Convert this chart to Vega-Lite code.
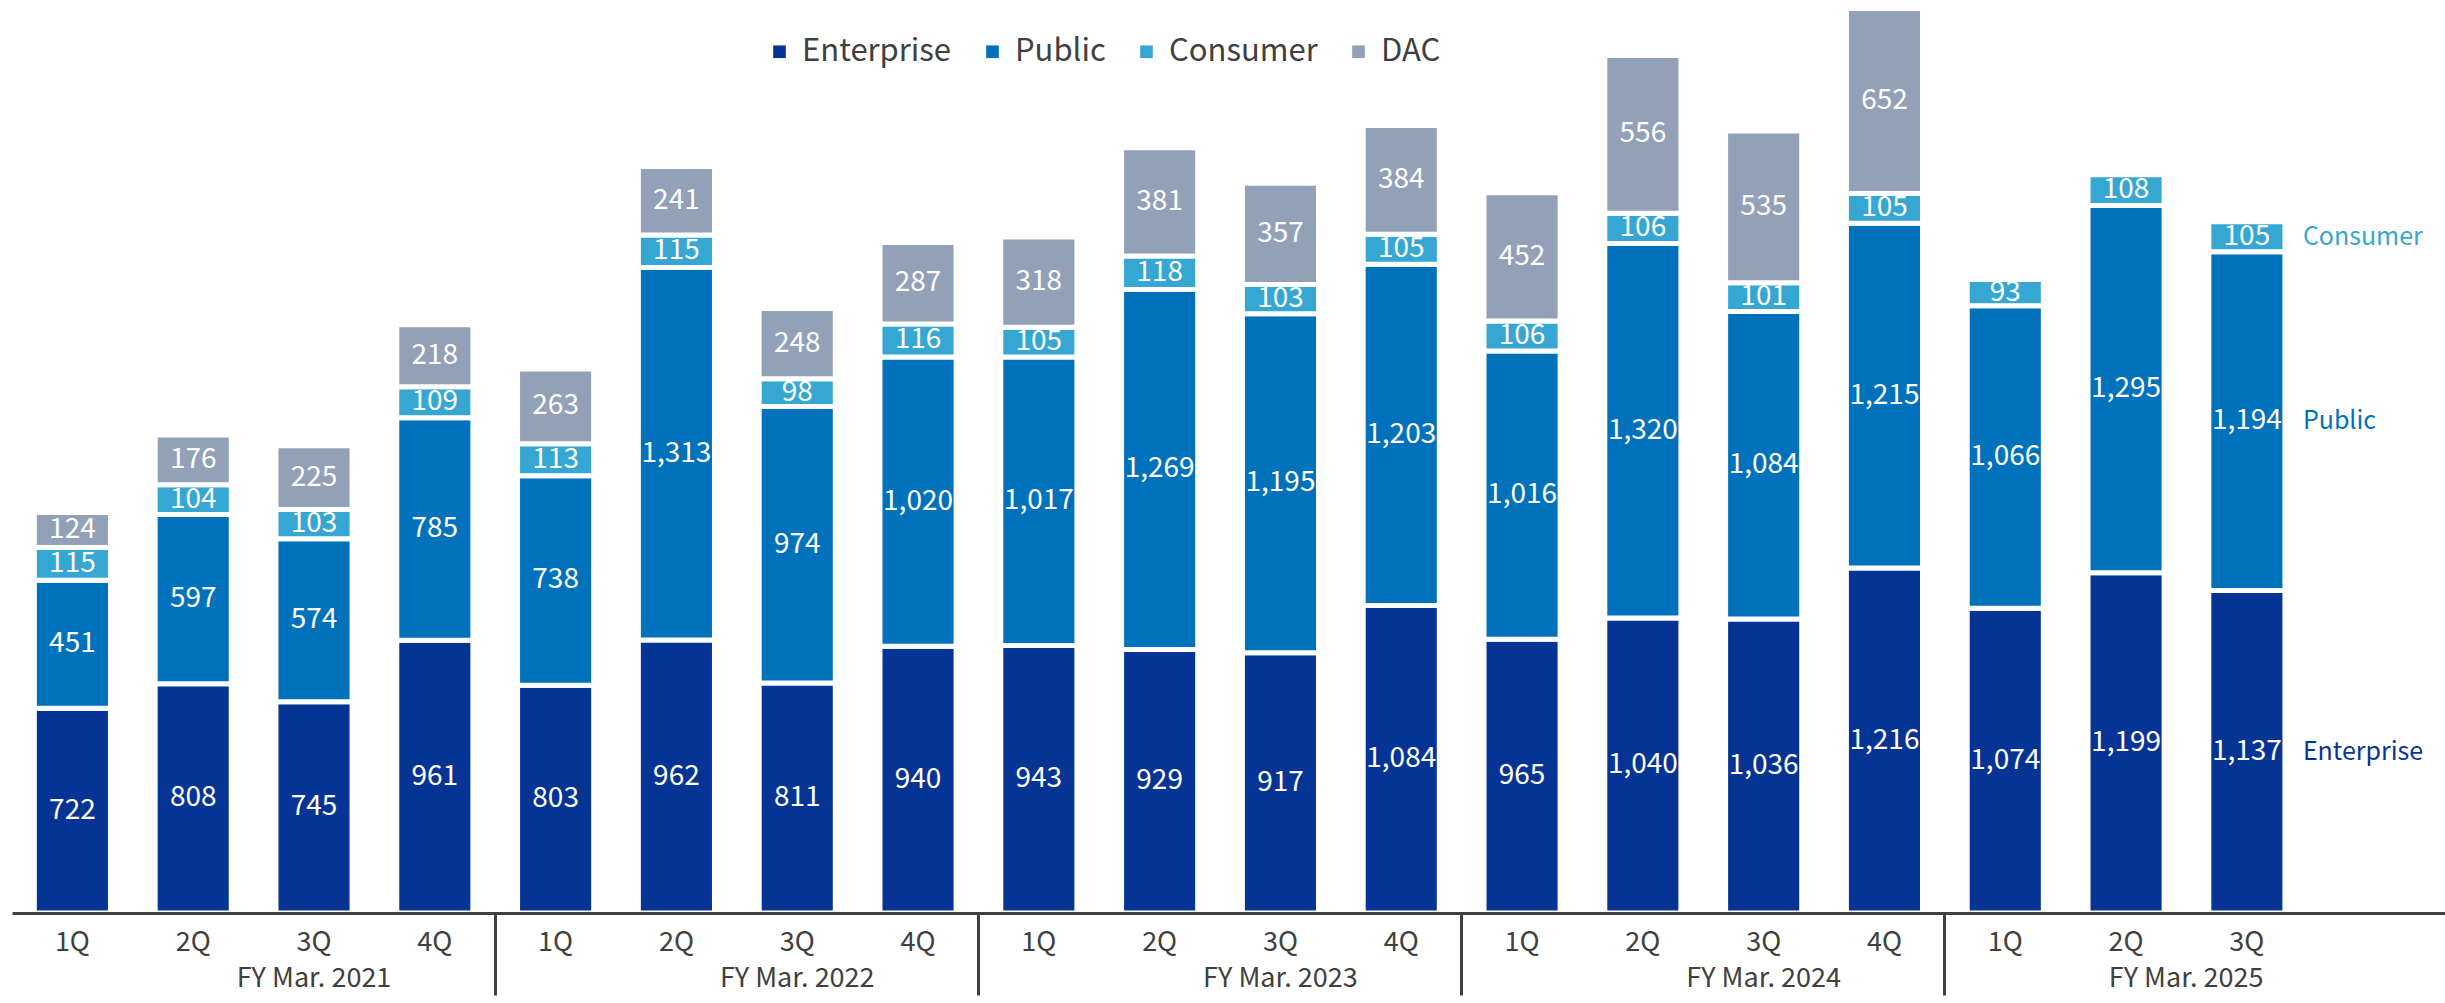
{
  "$schema": "https://vega.github.io/schema/vega-lite/v6.json",
  "width": 2433,
  "height": 913,
  "padding": {"left": 12, "top": 0, "right": 0, "bottom": 0},
  "background": "white",
  "config": {
    "view": {"stroke": null},
    "font": "Noto Sans CJK JP",
    "axis": {"labelFont": "Noto Sans CJK JP", "labelColor": "#404040", "title": null, "grid": false},
    "legend": {"labelFont": "Noto Sans CJK JP"}
  },
  "data": {
    "values": [
      {"fy": "FY Mar. 2021", "q": "1Q", "segment": "Enterprise", "value": 722},
      {"fy": "FY Mar. 2021", "q": "1Q", "segment": "Public", "value": 451},
      {"fy": "FY Mar. 2021", "q": "1Q", "segment": "Consumer", "value": 115},
      {"fy": "FY Mar. 2021", "q": "1Q", "segment": "DAC", "value": 124},
      {"fy": "FY Mar. 2021", "q": "2Q", "segment": "Enterprise", "value": 808},
      {"fy": "FY Mar. 2021", "q": "2Q", "segment": "Public", "value": 597},
      {"fy": "FY Mar. 2021", "q": "2Q", "segment": "Consumer", "value": 104},
      {"fy": "FY Mar. 2021", "q": "2Q", "segment": "DAC", "value": 176},
      {"fy": "FY Mar. 2021", "q": "3Q", "segment": "Enterprise", "value": 745},
      {"fy": "FY Mar. 2021", "q": "3Q", "segment": "Public", "value": 574},
      {"fy": "FY Mar. 2021", "q": "3Q", "segment": "Consumer", "value": 103},
      {"fy": "FY Mar. 2021", "q": "3Q", "segment": "DAC", "value": 225},
      {"fy": "FY Mar. 2021", "q": "4Q", "segment": "Enterprise", "value": 961},
      {"fy": "FY Mar. 2021", "q": "4Q", "segment": "Public", "value": 785},
      {"fy": "FY Mar. 2021", "q": "4Q", "segment": "Consumer", "value": 109},
      {"fy": "FY Mar. 2021", "q": "4Q", "segment": "DAC", "value": 218},
      {"fy": "FY Mar. 2022", "q": "1Q", "segment": "Enterprise", "value": 803},
      {"fy": "FY Mar. 2022", "q": "1Q", "segment": "Public", "value": 738},
      {"fy": "FY Mar. 2022", "q": "1Q", "segment": "Consumer", "value": 113},
      {"fy": "FY Mar. 2022", "q": "1Q", "segment": "DAC", "value": 263},
      {"fy": "FY Mar. 2022", "q": "2Q", "segment": "Enterprise", "value": 962},
      {"fy": "FY Mar. 2022", "q": "2Q", "segment": "Public", "value": 1313},
      {"fy": "FY Mar. 2022", "q": "2Q", "segment": "Consumer", "value": 115},
      {"fy": "FY Mar. 2022", "q": "2Q", "segment": "DAC", "value": 241},
      {"fy": "FY Mar. 2022", "q": "3Q", "segment": "Enterprise", "value": 811},
      {"fy": "FY Mar. 2022", "q": "3Q", "segment": "Public", "value": 974},
      {"fy": "FY Mar. 2022", "q": "3Q", "segment": "Consumer", "value": 98},
      {"fy": "FY Mar. 2022", "q": "3Q", "segment": "DAC", "value": 248},
      {"fy": "FY Mar. 2022", "q": "4Q", "segment": "Enterprise", "value": 940},
      {"fy": "FY Mar. 2022", "q": "4Q", "segment": "Public", "value": 1020},
      {"fy": "FY Mar. 2022", "q": "4Q", "segment": "Consumer", "value": 116},
      {"fy": "FY Mar. 2022", "q": "4Q", "segment": "DAC", "value": 287},
      {"fy": "FY Mar. 2023", "q": "1Q", "segment": "Enterprise", "value": 943},
      {"fy": "FY Mar. 2023", "q": "1Q", "segment": "Public", "value": 1017},
      {"fy": "FY Mar. 2023", "q": "1Q", "segment": "Consumer", "value": 105},
      {"fy": "FY Mar. 2023", "q": "1Q", "segment": "DAC", "value": 318},
      {"fy": "FY Mar. 2023", "q": "2Q", "segment": "Enterprise", "value": 929},
      {"fy": "FY Mar. 2023", "q": "2Q", "segment": "Public", "value": 1269},
      {"fy": "FY Mar. 2023", "q": "2Q", "segment": "Consumer", "value": 118},
      {"fy": "FY Mar. 2023", "q": "2Q", "segment": "DAC", "value": 381},
      {"fy": "FY Mar. 2023", "q": "3Q", "segment": "Enterprise", "value": 917},
      {"fy": "FY Mar. 2023", "q": "3Q", "segment": "Public", "value": 1195},
      {"fy": "FY Mar. 2023", "q": "3Q", "segment": "Consumer", "value": 103},
      {"fy": "FY Mar. 2023", "q": "3Q", "segment": "DAC", "value": 357},
      {"fy": "FY Mar. 2023", "q": "4Q", "segment": "Enterprise", "value": 1084},
      {"fy": "FY Mar. 2023", "q": "4Q", "segment": "Public", "value": 1203},
      {"fy": "FY Mar. 2023", "q": "4Q", "segment": "Consumer", "value": 105},
      {"fy": "FY Mar. 2023", "q": "4Q", "segment": "DAC", "value": 384},
      {"fy": "FY Mar. 2024", "q": "1Q", "segment": "Enterprise", "value": 965},
      {"fy": "FY Mar. 2024", "q": "1Q", "segment": "Public", "value": 1016},
      {"fy": "FY Mar. 2024", "q": "1Q", "segment": "Consumer", "value": 106},
      {"fy": "FY Mar. 2024", "q": "1Q", "segment": "DAC", "value": 452},
      {"fy": "FY Mar. 2024", "q": "2Q", "segment": "Enterprise", "value": 1040},
      {"fy": "FY Mar. 2024", "q": "2Q", "segment": "Public", "value": 1320},
      {"fy": "FY Mar. 2024", "q": "2Q", "segment": "Consumer", "value": 106},
      {"fy": "FY Mar. 2024", "q": "2Q", "segment": "DAC", "value": 556},
      {"fy": "FY Mar. 2024", "q": "3Q", "segment": "Enterprise", "value": 1036},
      {"fy": "FY Mar. 2024", "q": "3Q", "segment": "Public", "value": 1084},
      {"fy": "FY Mar. 2024", "q": "3Q", "segment": "Consumer", "value": 101},
      {"fy": "FY Mar. 2024", "q": "3Q", "segment": "DAC", "value": 535},
      {"fy": "FY Mar. 2024", "q": "4Q", "segment": "Enterprise", "value": 1216},
      {"fy": "FY Mar. 2024", "q": "4Q", "segment": "Public", "value": 1215},
      {"fy": "FY Mar. 2024", "q": "4Q", "segment": "Consumer", "value": 105},
      {"fy": "FY Mar. 2024", "q": "4Q", "segment": "DAC", "value": 652},
      {"fy": "FY Mar. 2025", "q": "1Q", "segment": "Enterprise", "value": 1074},
      {"fy": "FY Mar. 2025", "q": "1Q", "segment": "Public", "value": 1066},
      {"fy": "FY Mar. 2025", "q": "1Q", "segment": "Consumer", "value": 93},
      {"fy": "FY Mar. 2025", "q": "2Q", "segment": "Enterprise", "value": 1199},
      {"fy": "FY Mar. 2025", "q": "2Q", "segment": "Public", "value": 1295},
      {"fy": "FY Mar. 2025", "q": "2Q", "segment": "Consumer", "value": 108},
      {"fy": "FY Mar. 2025", "q": "3Q", "segment": "Enterprise", "value": 1137},
      {"fy": "FY Mar. 2025", "q": "3Q", "segment": "Public", "value": 1194},
      {"fy": "FY Mar. 2025", "q": "3Q", "segment": "Consumer", "value": 105}
    ]
  },
  "transform": [
    {"calculate": "datum.fy + '|' + datum.q", "as": "key"},
    {"calculate": "indexof(['Enterprise','Public','Consumer','DAC'], datum.segment)", "as": "ord"},
    {"stack": "value", "groupby": ["key"], "sort": [{"field": "ord", "order": "ascending"}], "as": ["y0", "y1"]},
    {"calculate": "(datum.y0 + datum.y1) / 2", "as": "mid"}
  ],
  "resolve": {"axis": {"x": "independent"}},
  "layer": [
    {
      "mark": {"type": "bar", "width": {"band": 0.63}, "stroke": "white", "strokeWidth": 5},
      "encoding": {
        "x": {
          "field": "key", "type": "nominal", "sort": null,
          "scale": {
            "domain": ["FY Mar. 2021|1Q","FY Mar. 2021|2Q","FY Mar. 2021|3Q","FY Mar. 2021|4Q",
                       "FY Mar. 2022|1Q","FY Mar. 2022|2Q","FY Mar. 2022|3Q","FY Mar. 2022|4Q",
                       "FY Mar. 2023|1Q","FY Mar. 2023|2Q","FY Mar. 2023|3Q","FY Mar. 2023|4Q",
                       "FY Mar. 2024|1Q","FY Mar. 2024|2Q","FY Mar. 2024|3Q","FY Mar. 2024|4Q",
                       "FY Mar. 2025|1Q","FY Mar. 2025|2Q","FY Mar. 2025|3Q","pad"],
            "paddingInner": 0, "paddingOuter": 0.07, "align": 0
          },
          "axis": {
            "orient": "bottom", "zindex": 1,
            "values": ["FY Mar. 2021|1Q","FY Mar. 2021|2Q","FY Mar. 2021|3Q","FY Mar. 2021|4Q",
                       "FY Mar. 2022|1Q","FY Mar. 2022|2Q","FY Mar. 2022|3Q","FY Mar. 2022|4Q",
                       "FY Mar. 2023|1Q","FY Mar. 2023|2Q","FY Mar. 2023|3Q","FY Mar. 2023|4Q",
                       "FY Mar. 2024|1Q","FY Mar. 2024|2Q","FY Mar. 2024|3Q","FY Mar. 2024|4Q",
                       "FY Mar. 2025|1Q","FY Mar. 2025|2Q","FY Mar. 2025|3Q"],
            "labelExpr": "split(datum.value, '|')[1]",
            "labelAngle": 0, "labelFontSize": 27, "labelPadding": 16,
            "ticks": false, "domain": true, "domainColor": "#404040", "domainWidth": 3
          }
        },
        "y": {"field": "y0", "type": "quantitative", "scale": {"domain": [0, 3218], "nice": false}, "axis": null},
        "y2": {"field": "y1"},
        "color": {
          "field": "segment", "type": "nominal",
          "scale": {"domain": ["Enterprise", "Public", "Consumer", "DAC"], "range": ["#063494", "#0072BB", "#36A6D2", "#92A0B8"]},
          "legend": {
            "title": null, "orient": "none", "direction": "horizontal", "legendX": 752, "legendY": 36,
            "symbolType": "square", "symbolSize": 160, "symbolStrokeWidth": 0,
            "labelFontSize": 31, "labelColor": "#404040", "labelOffset": 7, "columnPadding": 25, "padding": 0
          }
        }
      }
    },
    {
      "mark": {"type": "text", "color": "white", "fontSize": 28, "baseline": "middle", "align": "center"},
      "encoding": {
        "x": {
          "field": "key", "type": "nominal", "sort": null,
          "axis": {
            "orient": "bottom", "zindex": 1,
            "values": ["FY Mar. 2022|1Q", "FY Mar. 2023|1Q", "FY Mar. 2024|1Q", "FY Mar. 2025|1Q"],
            "bandPosition": 0, "labels": false, "domain": false,
            "ticks": true, "tickSize": 82, "tickWidth": 3, "tickColor": "#404040"
          }
        },
        "y": {"field": "mid", "type": "quantitative"},
        "text": {"field": "value", "type": "quantitative", "format": ","}
      }
    },
    {
      "transform": [{"filter": "datum.key == 'FY Mar. 2025|3Q'"}],
      "mark": {"type": "text", "fontSize": 25, "baseline": "middle", "align": "left", "dx": 56},
      "encoding": {
        "x": {
          "field": "key", "type": "nominal", "sort": null,
          "axis": {
            "orient": "bottom",
            "values": ["FY Mar. 2021|3Q", "FY Mar. 2022|3Q", "FY Mar. 2023|3Q", "FY Mar. 2024|3Q", "FY Mar. 2025|2Q"],
            "bandPosition": 0, "ticks": false, "domain": false,
            "labelExpr": "split(datum.value, '|')[0]",
            "labelAngle": 0, "labelFontSize": 27, "labelPadding": 52,
            "labelOffset": {"condition": {"test": "datum.value == 'FY Mar. 2025|2Q'", "value": 60}, "value": 0}
          }
        },
        "y": {"field": "mid", "type": "quantitative"},
        "text": {"field": "segment", "type": "nominal"},
        "color": {"field": "segment", "type": "nominal", "legend": null}
      }
    }
  ]
}
